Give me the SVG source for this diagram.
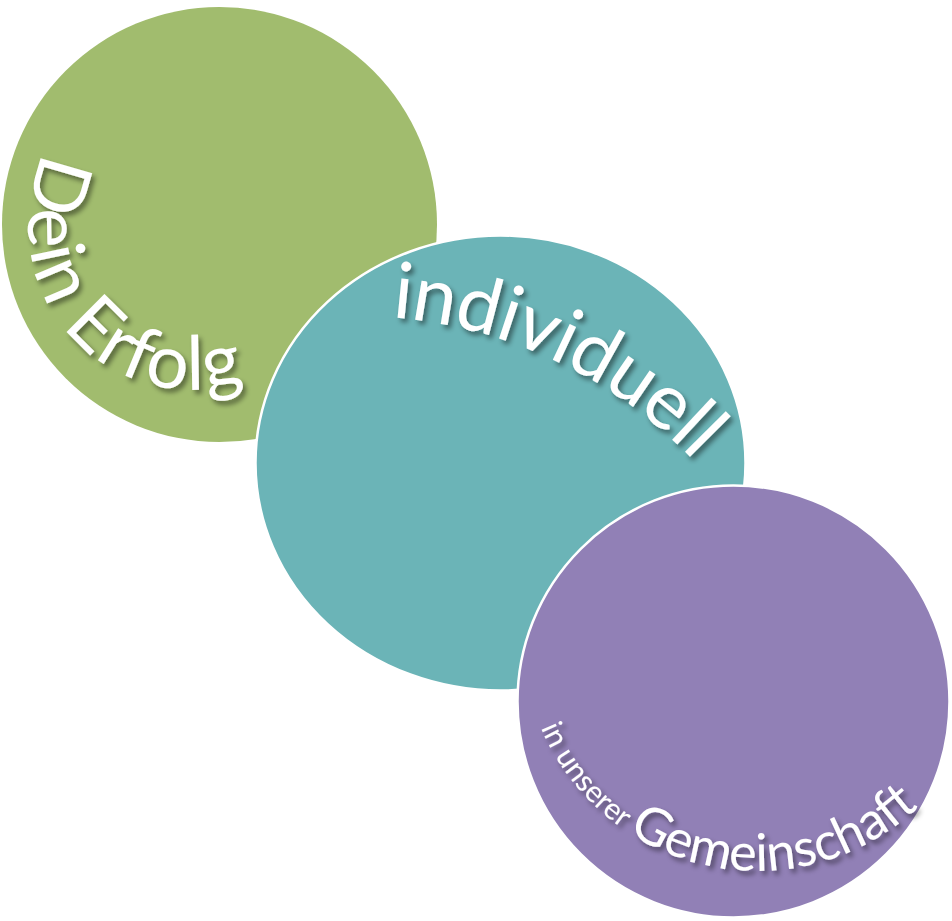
<svg xmlns="http://www.w3.org/2000/svg" width="952" height="921" viewBox="0 0 952 921">
  <style>
    .lbl { font-family: Lato, "Open Sans", "Liberation Sans", sans-serif; fill: #ffffff; filter: url(#shadow); }
    .ring { stroke: #ffffff; stroke-width: 2.5; }
  </style>
  <defs>
    <filter id="shadow" x="-20%" y="-20%" width="140%" height="140%">
      <feDropShadow dx="3" dy="4" stdDeviation="2.5" flood-color="#000000" flood-opacity="0.45"/>
    </filter>
    <path id="pGreen" d="M44.7,152.7 A165,165 0 0 0 275.5,367.9"/>
    <path id="pTeal" d="M391.8,317.4 A469,469 0 0 1 795.7,624.6"/>
    <path id="pPurple" d="M540.7,727.8 A235,235 0 0 0 960.5,753.5"/>
  </defs>
  <rect width="952" height="921" fill="#ffffff"/>
  <g id="node-green">
    <circle cx="219.5" cy="224.5" r="217.5" fill="#A1BC6E"/>
    <text class="lbl" font-size="75"><textPath href="#pGreen" textLength="386" lengthAdjust="spacing">Dein Erfolg</textPath></text>
  </g>
  <g id="node-teal">
    <ellipse class="ring" cx="500.5" cy="463" rx="245" ry="227.5" fill="#6BB4B7"/>
    <text class="lbl" font-size="78"><textPath href="#pTeal" textLength="342" lengthAdjust="spacing">individuell</textPath></text>
  </g>
  <g id="node-purple">
    <circle class="ring" cx="733.5" cy="701.5" r="216" fill="#9180B6"/>
    <text class="lbl"><textPath href="#pPurple"><tspan font-size="30">in unserer</tspan><tspan font-size="52" dx="7">Gemeinschaft</tspan></textPath></text>
  </g>
  <g id="connectors"/>
</svg>
